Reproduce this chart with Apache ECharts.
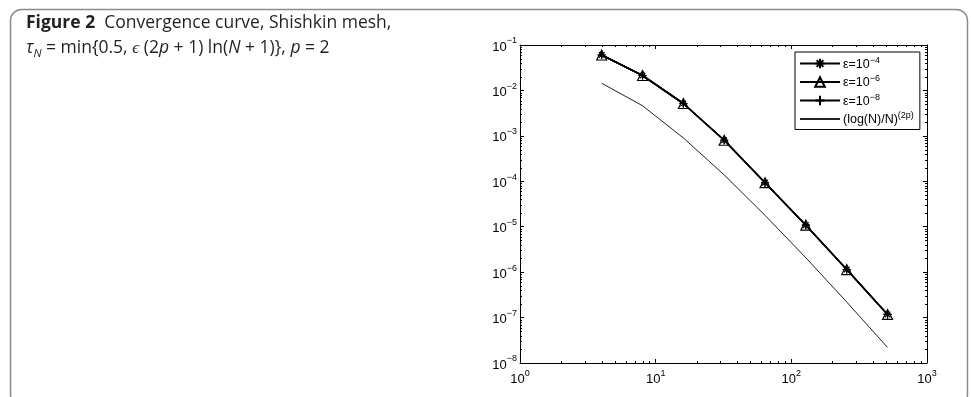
<!DOCTYPE html>
<html><head><meta charset="utf-8">
<script src="https://cdn.jsdelivr.net/npm/echarts@6/dist/echarts.min.js"></script>
<style>html,body{margin:0;padding:0;background:#fff}#c{width:971px;height:397px}</style>
</head><body><div id="c"></div>
<script>
// ---- data ----
const N = [4, 8, 16, 32, 64, 128, 256, 512];
const errEps4 = [0.0603, 0.0213, 0.00515, 8.0e-4, 9.3e-5, 1.08e-5, 1.14e-6, 1.17e-7];
const errEps6 = [0.0603, 0.0213, 0.00515, 8.0e-4, 9.3e-5, 1.08e-5, 1.14e-6, 1.17e-7];
const errEps8 = [0.0603, 0.0213, 0.00515, 8.0e-4, 9.3e-5, 1.08e-5, 1.14e-6, 1.17e-7];
const refRate = [0.0144, 0.0046, 9.0e-4, 1.38e-4, 1.78e-5, 2.07e-6, 2.2e-7, 2.2e-8];
const seriesNames = ['eps4', 'eps6', 'eps8', 'ref'];
const legendBase = ['ε=10', 'ε=10', 'ε=10', '(log(N)/N)'];
const legendSup = ['−4', '−6', '−8', '(2p)'];
const xTickExps = [0, 1, 2, 3];
const yTickExps = [-8, -7, -6, -5, -4, -3, -2, -1];
const minorMantissas = [2, 3, 4, 5, 6, 7, 8, 9];

const xMin = 1, xMax = 1000, yMin = 1e-8, yMax = 1e-1;
const minorData = [];
for (let e = 0; e < 3; e++) minorMantissas.forEach(m => minorData.push([m * Math.pow(10, e), yMin, 0]));
for (let e = -8; e < -1; e++) minorMantissas.forEach(m => minorData.push([xMin, m * Math.pow(10, e), 1]));

const supStr = e => (e < 0 ? '−' + (-e) : '' + e);
const font = 'Liberation Sans';
const tickRich = {
  b: { fontFamily: font, fontSize: 13, lineHeight: 17, verticalAlign: 'bottom', color: '#000' },
  s: { fontFamily: font, fontSize: 9, lineHeight: 8, verticalAlign: 'top', color: '#000' }
};
function tickFmt(list) {
  return v => {
    const e = Math.round(Math.log10(v));
    return list.indexOf(e) >= 0 ? '{b|10}{s|' + supStr(e) + '}' : '';
  };
}
const axBase = (pos, show, fmt, margin) => ({
  type: 'log', logBase: 10, position: pos,
  axisLine: { show: true, onZero: false, lineStyle: { color: '#000', width: 1 } },
  axisTick: { show: true, inside: true, length: 4, lineStyle: { color: '#000' } },
  splitLine: { show: false },
  axisLabel: { show: show, formatter: fmt, margin: margin, rich: tickRich }
});
const xA0 = Object.assign(axBase('bottom', true, tickFmt(xTickExps), 6), { min: xMin, max: xMax });
const xA1 = Object.assign(axBase('top', false, null, 0), { min: xMin, max: xMax });
const yA0 = Object.assign(axBase('left', true, tickFmt(yTickExps), 3), { min: yMin, max: yMax, splitNumber: 8 });
const yA1 = Object.assign(axBase('right', false, null, 0), { min: yMin, max: yMax, splitNumber: 8 });

const star = 'path://M0 5L10 5M5 0L5 10M1.5 1.5L8.5 8.5M1.5 8.5L8.5 1.5';
const plus = 'path://M0 5L10 5M5 0L5 10';
const mk = (i, vals, sym, size, extra) => Object.assign({
  name: seriesNames[i], type: 'line', data: N.map((n, k) => [n, vals[k]]),
  symbol: sym, symbolSize: size, showSymbol: true,
  lineStyle: { color: '#000', width: 1.6 },
  itemStyle: { color: 'rgba(0,0,0,0)', borderColor: '#000', borderWidth: 1.2 },
  emphasis: { disabled: true }
}, extra || {});

const capFont = 'Open Sans', capSize = 17.5, capColor = '#231f20';
const chart = echarts.init(document.getElementById('c'), null, { renderer: 'canvas' });
chart.setOption({
  animation: false,
  backgroundColor: '#fff',
  grid: { left: 520, top: 45, width: 407, height: 318, containLabel: false },
  xAxis: [xA0, xA1],
  yAxis: [yA0, yA1],
  legend: {
    orient: 'vertical', left: 795, top: 52,
    data: seriesNames.map((n, i) => i === 3
      ? { name: n, itemStyle: { color: 'rgba(0,0,0,0)', borderColor: 'rgba(0,0,0,0)', borderWidth: 0 } }
      : { name: n }),
    borderColor: '#000', borderWidth: 1, borderRadius: 0,
    padding: [4, 6, 3, 4], itemGap: 3.5, itemWidth: 40, itemHeight: 12,
    formatter: name => {
      const i = seriesNames.indexOf(name);
      return '{b|' + legendBase[i] + '}{s|' + legendSup[i] + '}';
    },
    textStyle: {
      padding: [0, 0, 0, -2],
      rich: {
        b: { fontFamily: font, fontSize: 12.5, lineHeight: 15, verticalAlign: 'bottom', color: '#000' },
        s: { fontFamily: font, fontSize: 9, lineHeight: 8, verticalAlign: 'top', color: '#000' }
      }
    },
    selectedMode: false
  },
  graphic: [
    { type: 'rect', silent: true, shape: { x: 10.5, y: 9.5, width: 957, height: 396, r: 11 },
      style: { fill: 'none', stroke: '#8a8a8a', lineWidth: 1.5 } },
    { type: 'text', left: 26, top: 14, silent: true,
      style: {
        text: '{b|Figure 2}{n|  Convergence curve, Shishkin mesh,}',
        fontFamily: capFont, fontSize: capSize, fill: capColor,
        rich: {
          b: { fontFamily: capFont, fontWeight: 'bold', fontSize: capSize, fill: capColor },
          n: { fontFamily: capFont, fontSize: capSize, fill: capColor }
        }
      } },
    { type: 'text', left: 26, top: 37, silent: true,
      style: {
        text: '{i|τ}{sub|N}{n| = min{0.5, }{i|ϵ}{n| (2}{i|p}{n| + 1) ln(}{i|N}{n| + 1)}}, {i|p}{n| = 2}',
        fontFamily: capFont, fontSize: capSize, lineHeight: 23, fill: capColor,
        rich: {
          n: { fontFamily: capFont, fontSize: capSize, lineHeight: 23, fill: capColor },
          i: { fontFamily: capFont, fontStyle: 'italic', fontSize: capSize, lineHeight: 23, fill: capColor },
          sub: { fontFamily: capFont, fontStyle: 'italic', fontSize: 11.5, lineHeight: 12, verticalAlign: 'bottom', fill: capColor }
        }
      } }
  ],
  series: [
    mk(0, errEps4, star, 8),
    mk(1, errEps6, 'triangle', 10),
    mk(2, errEps8, plus, 8),
    mk(3, refRate, 'none', 0, { lineStyle: { color: '#222', width: 1 } }),
    {
      type: 'custom', silent: true, clip: false, data: minorData, z: 5,
      renderItem: (params, api) => {
        const v = api.value(0), kind = api.value(2);
        const st = { stroke: '#000', lineWidth: 1 };
        if (kind === 0) {
          const b = api.coord([v, yMin]), t = api.coord([v, yMax]);
          const x = Math.round(b[0]) + 0.5;
          return { type: 'group', children: [
            { type: 'line', shape: { x1: x, y1: b[1], x2: x, y2: b[1] - 2 }, style: st },
            { type: 'line', shape: { x1: x, y1: t[1], x2: x, y2: t[1] + 2 }, style: st }
          ] };
        }
        const yv = api.value(1);
        const l = api.coord([xMin, yv]), r = api.coord([xMax, yv]);
        const y = Math.round(l[1]) + 0.5;
        return { type: 'group', children: [
          { type: 'line', shape: { x1: l[0], y1: y, x2: l[0] + 2, y2: y }, style: st },
          { type: 'line', shape: { x1: r[0], y1: y, x2: r[0] - 2, y2: y }, style: st }
        ] };
      }
    }
  ]
});
</script></body></html>
